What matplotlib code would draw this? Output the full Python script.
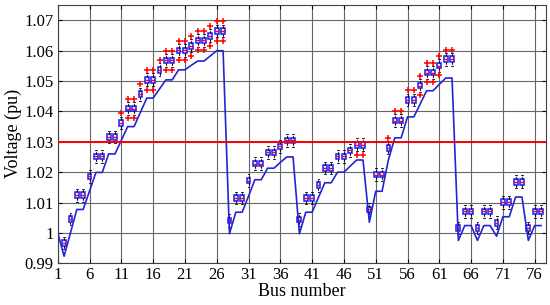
import numpy as np
import matplotlib.pyplot as plt

plt.rcParams['font.family'] = ['Liberation Serif', 'DejaVu Serif']

# voltage profile (blue line), buses 1..77
v_line = [1.000, 0.9923, 1.000, 1.0077, 1.0077, 1.0138, 1.0199, 1.0199, 1.026, 1.026,
          1.0305, 1.035, 1.035, 1.0397, 1.0444, 1.0444, 1.0474, 1.0504, 1.0504, 1.0537,
          1.0537, 1.0552, 1.0566, 1.0566, 1.0583, 1.060, 1.060, 0.9997, 1.0068, 1.0068,
          1.0121, 1.0175, 1.0175, 1.0213, 1.0213, 1.0232, 1.025, 1.025, 0.9997, 1.0068,
          1.0068, 1.0117, 1.0165, 1.0165, 1.020, 1.020, 1.022, 1.024, 1.024, 1.0035,
          1.0137, 1.0137, 1.0241, 1.0313, 1.0313, 1.0382, 1.0382, 1.0425, 1.0468, 1.0468,
          1.0489, 1.051, 1.051, 0.9975, 1.0024, 1.0024, 0.9975, 1.0024, 1.0024, 0.9989,
          1.0053, 1.0053, 1.0118, 1.0118, 0.9975, 1.0024, 1.0024]

# box plot medians, buses 2..77
box_buses = list(range(2, 78))
box_med = [0.9967, 1.0046, 1.0124, 1.0124, 1.0186, 1.0252, 1.0252, 1.0316, 1.0316,
           1.0362, 1.0409, 1.0409, 1.0457, 1.0504, 1.0504, 1.0537, 1.0568, 1.0568, 1.0601,
           1.0601, 1.0616, 1.0634, 1.0634, 1.0649, 1.0665, 1.0665, 1.0041, 1.0115, 1.0115,
           1.0172, 1.0228, 1.0228, 1.0265, 1.0265, 1.0285, 1.0305, 1.0305, 1.0044, 1.0115,
           1.0115, 1.0157, 1.0214, 1.0214, 1.0252, 1.0252, 1.0272, 1.029, 1.029, 1.0077,
           1.0192, 1.0192, 1.028, 1.037, 1.037, 1.0438, 1.0438, 1.0485, 1.0528, 1.0528,
           1.0551, 1.0572, 1.0572, 1.0016, 1.0071, 1.0071, 1.0016, 1.0071, 1.0071, 1.0033,
           1.0101, 1.0101, 1.0168, 1.0168, 1.0016, 1.0071, 1.0071]
box_half = 0.0009
whisk = 0.0021
out_gap = 0.0032

# buses with red outliers above / below the box
out_up = list(range(11, 28)) + list(range(53, 64))
out_dn = [12, 13, 15, 16, 18, 19, 20, 21, 22, 23, 24, 25, 26, 27, 48, 49, 58, 59, 60, 61]

v_limit = 1.03

fig = plt.figure(figsize=(5.5, 3.05), dpi=100)
ax = fig.add_axes([0.105, 0.137, 0.888, 0.848])

stats = []
for b, m in zip(box_buses, box_med):
    fl = []
    if b in out_up:
        fl.append(m + out_gap)
    if b in out_dn:
        fl.append(m - out_gap)
    stats.append(dict(med=m, q1=m - box_half, q3=m + box_half,
                      whislo=m - whisk, whishi=m + whisk, fliers=fl))

ax.bxp(stats, positions=box_buses, widths=0.6, showfliers=True, patch_artist=True,
       boxprops=dict(edgecolor='#1a1aff', facecolor='#ece6fa', lw=1.1),
       medianprops=dict(color='red', lw=0.9),
       whiskerprops=dict(color='black', lw=0.8, ls=(0, (2, 1))),
       capprops=dict(color='black', lw=0.6),
       flierprops=dict(marker='+', markeredgecolor='red', markersize=4, mew=1.1),
       manage_ticks=False)

ax.plot(range(1, 78), v_line, color='#2323d8', lw=1.2, zorder=3)
ax.axhline(v_limit, color='red', lw=1.4, zorder=4)

ax.set_xlim(1, 77.8)
ax.set_ylim(0.99, 1.0752)
ax.set_xticks(range(1, 77, 5))
yt = [0.99, 1.0, 1.01, 1.02, 1.03, 1.04, 1.05, 1.06, 1.07]
ax.set_yticks(yt)
ax.set_yticklabels(['0.99', '1', '1.01', '1.02', '1.03', '1.04', '1.05', '1.06', '1.07'])
ax.grid(True, color='#666666', lw=0.8)
ax.set_axisbelow(True)
ax.tick_params(direction='in', top=True, right=True, labelsize=12, length=3, pad=3)
for s in ax.spines.values():
    s.set_color('#404040')
    s.set_linewidth(0.8)
ax.set_xlabel('Bus number', fontsize=13, labelpad=0)
ax.set_ylabel('Voltage (pu)', fontsize=13, labelpad=2)

fig.savefig('out.png', dpi=100)
